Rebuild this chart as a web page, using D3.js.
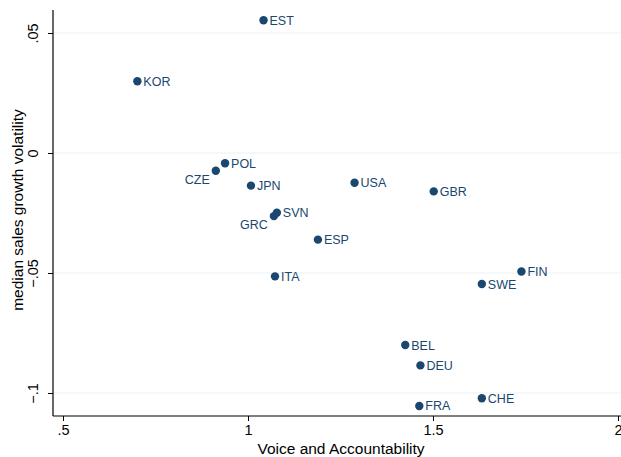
<!DOCTYPE html>
<html><head><meta charset="utf-8">
<script src="https://cdn.jsdelivr.net/npm/d3@7"></script>
<style>body{margin:0;background:#fff}svg{display:block}text{font-family:"Liberation Sans",Arial,sans-serif}</style>
</head><body>
<svg id="c" width="621" height="457"></svg>
<script>
const countries = ["EST","KOR","POL","CZE","JPN","SVN","GRC","USA","GBR","ESP","ITA","FIN","SWE","BEL","DEU","FRA","CHE"];
const voice = [1.042,0.701,0.938,0.913,1.008,1.078,1.070,1.288,1.502,1.189,1.073,1.739,1.632,1.425,1.466,1.463,1.632];
const volatility = [0.0553,0.0299,-0.0043,-0.0074,-0.0136,-0.0249,-0.0263,-0.0124,-0.0160,-0.0361,-0.0514,-0.0494,-0.0546,-0.0800,-0.0885,-0.1054,-0.1022];
const labelLeft = ["CZE","GRC"];
const xTicks = [0.5,1,1.5,2];
const xTickLabels = [".5","1","1.5","2"];
const yTicks = [0.05,0,-0.05,-0.1];
const yTickLabels = [".05","0","\u2212.05","\u2212.1"];

const svg = d3.select("#c");
const pL = 53, pR = 621, pT = 10, pB = 416;
const x = d3.scaleLinear().domain([0.5,2]).range([63,618]);
const y = d3.scaleLinear().domain([-0.1,0.05]).range([393,33]);
const col = "#1a476f";

// gridlines
svg.append("g").selectAll("line").data(yTicks).join("line")
  .attr("x1",pL).attr("x2",pR).attr("y1",d=>y(d)).attr("y2",d=>y(d))
  .attr("stroke","#eaf2f3").attr("stroke-width",1.2);

// x axis
const xa = svg.append("g").attr("transform",`translate(0,${pB})`)
  .call(d3.axisBottom(x).tickValues(xTicks).tickFormat((d,i)=>xTickLabels[i]).tickSize(5).tickSizeOuter(0));
xa.select(".domain").remove();
xa.append("line").attr("x1",pL).attr("x2",pR).attr("stroke","#000").attr("stroke-width",1.2);
xa.selectAll(".tick line").attr("stroke","#000");
xa.selectAll(".tick text").attr("font-size",14.5).attr("fill","#000").attr("dy","0.95em").attr("y",5);

// y axis
const ya = svg.append("g").attr("transform",`translate(${pL},0)`)
  .call(d3.axisLeft(y).tickValues(yTicks).tickFormat((d,i)=>yTickLabels[i]).tickSize(5).tickSizeOuter(0));
ya.select(".domain").remove();
ya.append("line").attr("y1",pT).attr("y2",pB).attr("stroke","#000").attr("stroke-width",1.2);
ya.selectAll(".tick line").attr("stroke","#000");
ya.selectAll(".tick text").attr("font-size",14.5).attr("fill","#000")
  .attr("x",null).attr("dy",null).attr("text-anchor","middle")
  .attr("transform","translate(-15,0) rotate(-90)").attr("y",0);

// axis titles
svg.append("text").attr("x",341).attr("y",454).attr("text-anchor","middle")
  .attr("font-size",15.5).attr("fill","#000").text("Voice and Accountability");
svg.append("text").attr("transform",`translate(23,210) rotate(-90)`).attr("text-anchor","middle")
  .attr("font-size",15.5).attr("fill","#000").text("median sales growth volatility");

// points
const data = countries.map((c,i)=>({c,vx:voice[i],vy:volatility[i]}));
svg.append("g").selectAll("circle").data(data).join("circle")
  .attr("cx",d=>x(d.vx)).attr("cy",d=>y(d.vy)).attr("r",4.2).attr("fill",col);
svg.append("g").selectAll("text").data(data).join("text")
  .attr("x",d=>labelLeft.includes(d.c)? x(d.vx)-6 : x(d.vx)+6)
  .attr("y",d=>labelLeft.includes(d.c)? y(d.vy)+13 : y(d.vy)+4.5)
  .attr("text-anchor",d=>labelLeft.includes(d.c)?"end":"start")
  .attr("font-size",12.5).attr("fill",col).text(d=>d.c);
</script>
</body></html>
